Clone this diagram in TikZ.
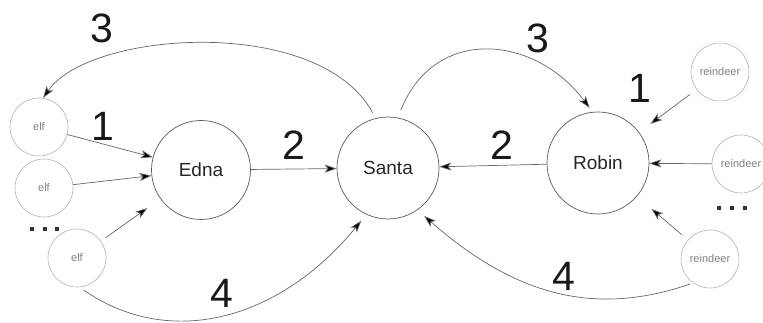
\documentclass[tikz,border=0pt]{standalone}
\usepackage{fontspec}
\setmainfont{Liberation Sans}
\usetikzlibrary{arrows.meta}
\begin{document}
\begin{tikzpicture}[x=1pt,y=-1pt,
  big/.style={circle, draw=black!65, line width=0.7pt, minimum size=102pt, inner sep=0pt,
    font=\fontsize{19}{19}\selectfont, text=black!85},
  small/.style={circle, draw=black!30, line width=0.6pt, minimum size=58pt, inner sep=0pt,
    font=\fontsize{11}{11}\selectfont, text=black!50},
  num/.style={font=\fontsize{41}{41}\selectfont, inner sep=0pt, text=black!90},
  flow/.style={draw=black!60, line width=0.7pt,
    -{Stealth[length=12pt,width=8pt,inset=3pt,fill=black]}},
  dotmark/.style={fill=black!80, minimum size=4.5pt, inner sep=0pt}
]
\useasboundingbox (0,0) rectangle (763,323);

% main actors
\node[big, minimum size=99pt] (edna)  at (201,170) {Edna};
\node[big] (santa) at (388,168) {Santa};
\node[big] (robin) at (598,163) {Robin};

% elves
\node[small] (elf1) at (39,127) {elf};
\node[small] (elf2) at (44,188) {elf};
\node[small] (elf3) at (77,258) {elf};
\node[dotmark] (el1) at (32,229) {};
\node[dotmark] (el2) at (45,229) {};
\node[dotmark] (el3) at (57,229) {};

% reindeer
\node[small] (rd1) at (720,72)  {reindeer};
\node[small] (rd2) at (741,164) {reindeer};
\node[small] (rd3) at (710,259) {reindeer};
\node[dotmark] (rl1) at (719,208) {};
\node[dotmark] (rl2) at (732,208) {};
\node[dotmark] (rl3) at (745,208) {};

% step 1: helpers report in
\draw[flow] (elf1) -- (edna);
\draw[flow] (elf2) -- (edna);
\draw[flow, shorten <=6pt, shorten >=16pt] (elf3) -- (edna);
\draw[flow, shorten <=8pt, shorten >=14pt] (rd1) -- (robin);
\draw[flow] (rd2) -- (robin);
\draw[flow, shorten <=8pt, shorten >=19pt] (rd3) -- (robin);

% step 2: leaders notify Santa
\draw[flow] (edna) -- (santa);
\draw[flow] (robin) -- (santa);

% step 3: Santa answers
\draw[flow, shorten <=6pt] (santa.104) .. controls (320,15) and (90,30) .. (elf1.82);
\draw[flow, shorten <=8pt, shorten >=5pt] (santa.79) .. controls (435,25) and (535,35) .. (robin.96);

% step 4: helpers come to Santa
\draw[flow, shorten <=5pt, shorten >=8pt] (elf3.275) .. controls (170,350) and (280,320) .. (santa.245);
\draw[flow, shorten <=3pt, shorten >=9pt] (rd3.235) .. controls (600,315) and (520,300) .. (santa.305);

% step numbers
\node[num] (n3l) at (102,28)  {3};
\node[num] (n1l) at (103,126) {1};
\node[num] (n2l) at (294,145) {2};
\node[num] (n4l) at (222,293) {4};
\node[num] (n3r) at (538,38)  {3};
\node[num] (n1r) at (640,88)  {1};
\node[num] (n2r) at (502,145) {2};
\node[num] (n4r) at (564,276) {4};
\end{tikzpicture}
\end{document}
